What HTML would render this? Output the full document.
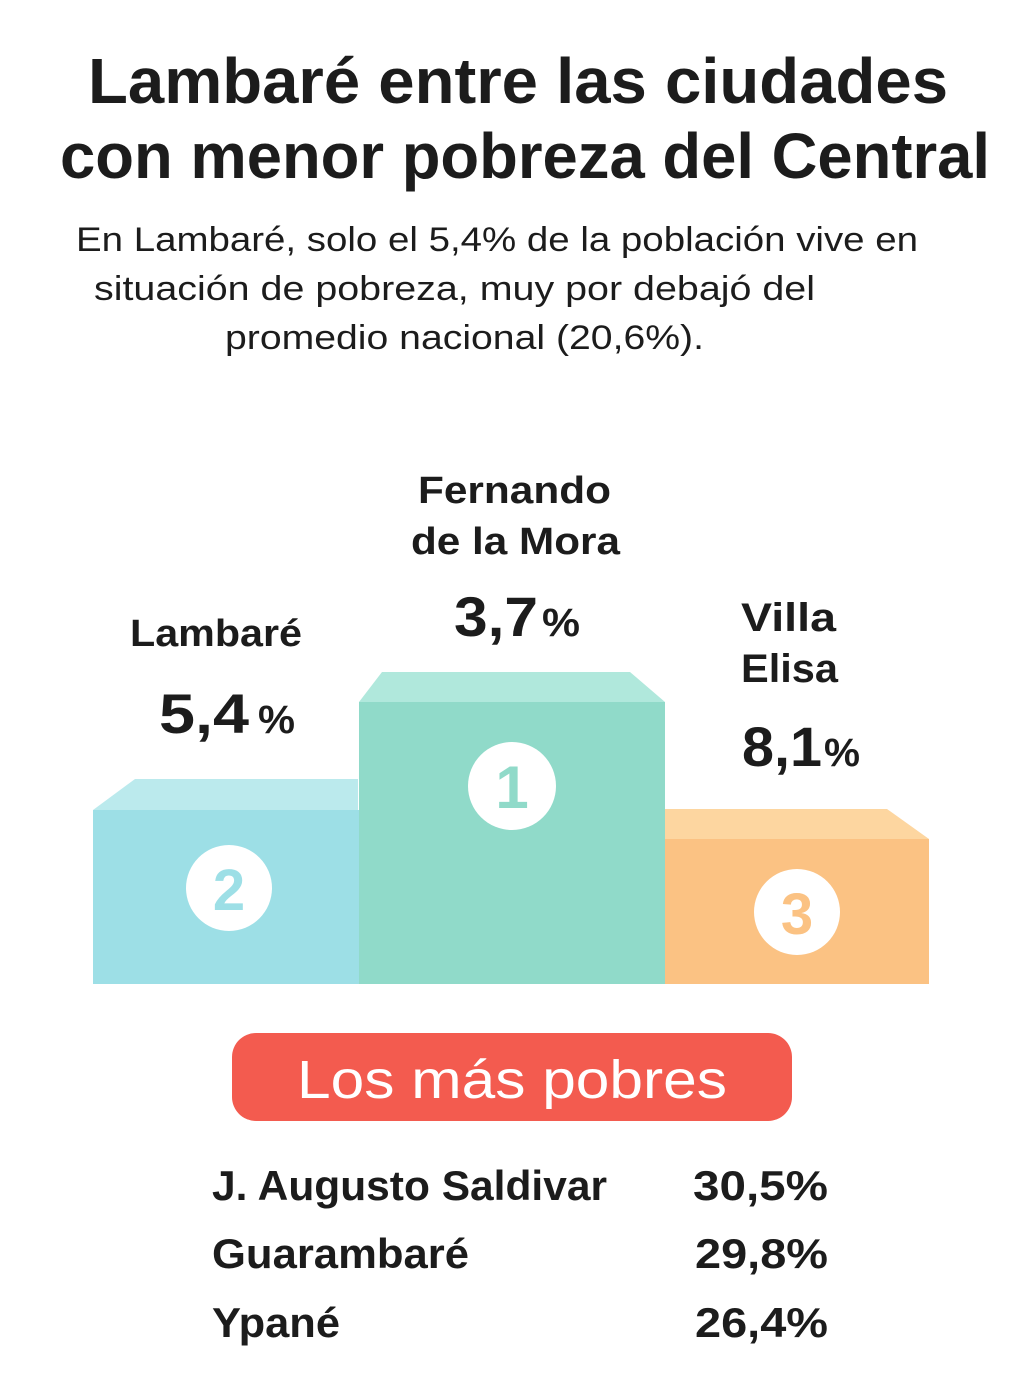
<!DOCTYPE html>
<html><head><meta charset="utf-8"><style>
html,body{margin:0;padding:0;background:#fff;width:1024px;height:1388px;overflow:hidden}
svg{display:block}
text{font-family:"Liberation Sans",sans-serif;fill:#1c1c1c}
</style></head><body>
<svg width="1024" height="1388" viewBox="0 0 1024 1388">
<text x="88" y="103" font-size="64" font-weight="bold" textLength="860" lengthAdjust="spacingAndGlyphs">Lambaré entre las ciudades</text>
<text x="60" y="178" font-size="64" font-weight="bold" textLength="930" lengthAdjust="spacingAndGlyphs">con menor pobreza del Central</text>
<text x="76" y="251" font-size="34" textLength="842" lengthAdjust="spacingAndGlyphs">En Lambaré, solo el 5,4% de la población vive en</text>
<text x="94" y="300" font-size="34" textLength="721" lengthAdjust="spacingAndGlyphs">situación de pobreza, muy por debajó del</text>
<text x="225" y="349" font-size="34" textLength="479" lengthAdjust="spacingAndGlyphs">promedio nacional (20,6%).</text>

<!-- podium -->
<polygon points="93,810 135,779 358,779 358,810" fill="#bbeaed"/>
<rect x="93" y="810" width="266" height="174" fill="#9ddfe6"/>
<polygon points="359,702 382,672 630,672 665,702" fill="#b0e8dc"/>
<rect x="359" y="702" width="306" height="282" fill="#90dac9"/>
<polygon points="665,839 665,809 887,809 929,839" fill="#fdd6a0"/>
<rect x="665" y="839" width="264" height="145" fill="#fbc283"/>

<circle cx="512" cy="786" r="44" fill="#fff"/>
<text x="512" y="808" font-size="60" font-weight="bold" text-anchor="middle" style="fill:#90dac9">1</text>
<circle cx="229" cy="888" r="43" fill="#fff"/>
<text x="229" y="910" font-size="58" font-weight="bold" text-anchor="middle" style="fill:#9ddfe6">2</text>
<circle cx="797" cy="912" r="43" fill="#fff"/>
<text x="797" y="934" font-size="58" font-weight="bold" text-anchor="middle" style="fill:#fbc283">3</text>

<text x="418" y="503" font-size="38" font-weight="bold" textLength="193" lengthAdjust="spacingAndGlyphs">Fernando</text>
<text x="411" y="554" font-size="38" font-weight="bold" textLength="209" lengthAdjust="spacingAndGlyphs">de la Mora</text>
<text x="454" y="636" font-size="56" font-weight="bold" textLength="84" lengthAdjust="spacingAndGlyphs">3,7</text>
<text x="542" y="636" font-size="40" font-weight="bold" textLength="38" lengthAdjust="spacingAndGlyphs">%</text>
<text x="130" y="646" font-size="38" font-weight="bold" textLength="172" lengthAdjust="spacingAndGlyphs">Lambaré</text>
<text x="159" y="733" font-size="56" font-weight="bold" textLength="90" lengthAdjust="spacingAndGlyphs">5,4</text>
<text x="258" y="733" font-size="40" font-weight="bold" textLength="37" lengthAdjust="spacingAndGlyphs">%</text>
<text x="741" y="631" font-size="40" font-weight="bold" textLength="95" lengthAdjust="spacingAndGlyphs">Villa</text>
<text x="741" y="682" font-size="40" font-weight="bold" textLength="97" lengthAdjust="spacingAndGlyphs">Elisa</text>
<text x="742" y="766" font-size="56" font-weight="bold" textLength="80" lengthAdjust="spacingAndGlyphs">8,1</text>
<text x="824" y="766" font-size="40" font-weight="bold" textLength="36" lengthAdjust="spacingAndGlyphs">%</text>

<rect x="232" y="1033" width="560" height="88" rx="24" fill="#f35b4f"/>
<text x="297" y="1098" font-size="54" textLength="430" lengthAdjust="spacingAndGlyphs" style="fill:#fff;font-weight:500">Los más pobres</text>

<text x="212" y="1200" font-size="42" font-weight="bold" textLength="395" lengthAdjust="spacingAndGlyphs">J. Augusto Saldivar</text>
<text x="693" y="1200" font-size="42" font-weight="bold" textLength="135" lengthAdjust="spacingAndGlyphs">30,5%</text>
<text x="212" y="1268" font-size="42" font-weight="bold" textLength="257" lengthAdjust="spacingAndGlyphs">Guarambaré</text>
<text x="695" y="1268" font-size="42" font-weight="bold" textLength="133" lengthAdjust="spacingAndGlyphs">29,8%</text>
<text x="212" y="1337" font-size="42" font-weight="bold" textLength="128" lengthAdjust="spacingAndGlyphs">Ypané</text>
<text x="695" y="1337" font-size="42" font-weight="bold" textLength="133" lengthAdjust="spacingAndGlyphs">26,4%</text>
</svg>
</body></html>
